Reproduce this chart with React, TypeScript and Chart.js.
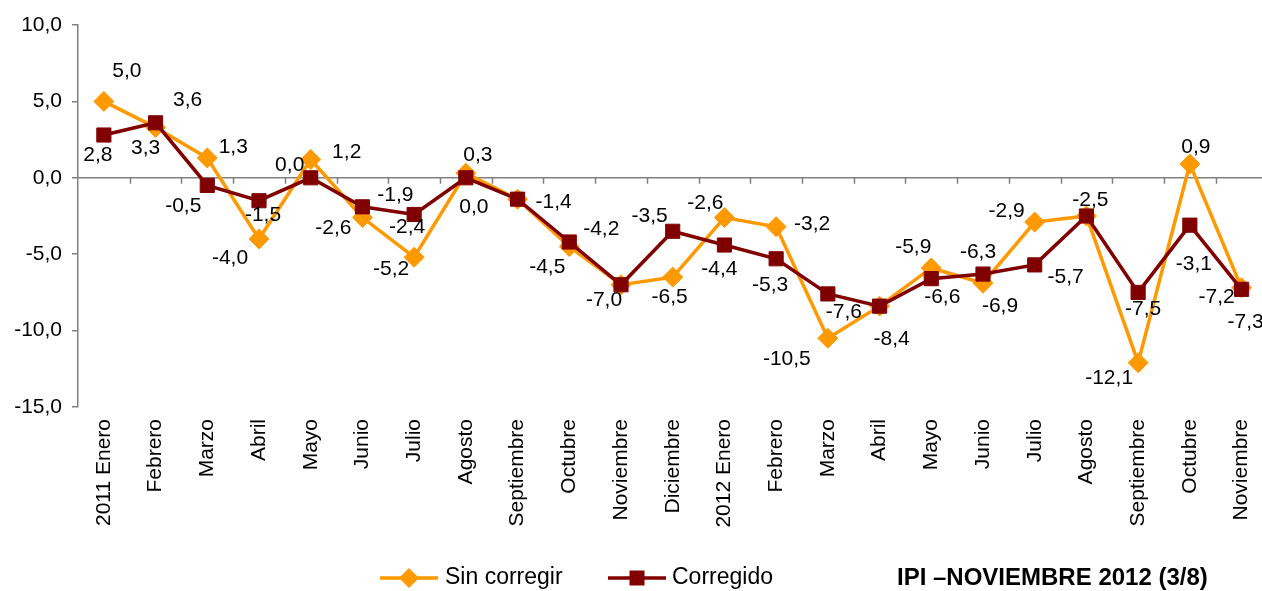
import React, { useEffect, useRef } from "react";
import { Chart, registerables } from "chart.js";

Chart.register(...registerables);

const categories: string[] = [
  "2011 Enero", "Febrero", "Marzo", "Abril", "Mayo", "Junio", "Julio", "Agosto",
  "Septiembre", "Octubre", "Noviembre", "Diciembre", "2012 Enero", "Febrero",
  "Marzo", "Abril", "Mayo", "Junio", "Julio", "Agosto", "Septiembre", "Octubre",
  "Noviembre",
];

const sinCorregir: number[] = [
  5.0, 3.3, 1.3, -4.0, 1.2, -2.6, -5.2, 0.3, -1.4, -4.5, -7.0, -6.5,
  -2.6, -3.2, -10.5, -8.4, -5.9, -6.9, -2.9, -2.5, -12.1, 0.9, -7.2,
];

const corregido: number[] = [
  2.8, 3.6, -0.5, -1.5, 0.0, -1.9, -2.4, 0.0, -1.4, -4.2, -7.0, -3.5,
  -4.4, -5.3, -7.6, -8.4, -6.6, -6.3, -5.7, -2.5, -7.5, -3.1, -7.3,
];

const yTicks: number[] = [10, 5, 0, -5, -10, -15];

const seriesNames = ["Sin corregir", "Corregido"];
const titleText = "IPI \u2013NOVIEMBRE 2012 (3/8)";

// label placement offsets (dx, dy) relative to the point; null = no label
type Off = [number, number] | null;
const sinOffsets: Off[] = [
  [23, -30], [-10, 21], [26, -11], [-29, 19], [36, -7], [-29, 11], [-23, 12],
  [12, -18], [36, 3], [-22, 21], [-17, 15], [-3, 20], [-19, -14], [36, -2],
  [-41, 21], [12, 33], [-18, -21], [17, 23], [-28, -11], null, [-29, 16],
  [6, -17], [-25, 9],
];
const corOffsets: Off[] = [
  [-6, 20], [32, -23], [-24, 21], [4, 14], [-21, -13], [33, -12], [-7, 13],
  [8, 29], null, [32, -13], null, [-23, -15], [-5, 24], [-6, 26], [16, 18],
  null, [11, 19], [-5, -22], [31, 12], [4, -16], [5, 17], [4, 39], [4, 33],
];

const ORANGE = "#FF9900";
const MAROON = "#800000";
const AXIS = "#808080";
const FONT = "'Liberation Sans', Arial, sans-serif";

const fmt = (v: number) => v.toFixed(1).replace(".", ",");

const zeroLinePlugin = {
  id: "zeroLine",
  beforeDatasetsDraw(chart: any) {
    const { ctx, chartArea } = chart;
    const y = chart.scales.y.getPixelForValue(0);
    const n = categories.length;
    const w = (chartArea.right - chartArea.left) / n;
    ctx.save();
    ctx.strokeStyle = AXIS;
    ctx.lineWidth = 1.5;
    ctx.beginPath();
    ctx.moveTo(chartArea.left, y);
    ctx.lineTo(chartArea.right, y);
    for (let k = 1; k <= n; k++) {
      const xx = Math.round(chartArea.left + k * w) + 0.5;
      ctx.moveTo(xx, y);
      ctx.lineTo(xx, y + 6);
    }
    ctx.stroke();
    ctx.restore();
  },
};

const labelPlugin = {
  id: "dataLabels",
  afterDatasetsDraw(chart: any) {
    const { ctx } = chart;
    const offs = [sinOffsets, corOffsets];
    ctx.save();
    ctx.font = `21px ${FONT}`;
    ctx.fillStyle = "#000";
    ctx.textAlign = "center";
    ctx.textBaseline = "middle";
    chart.data.datasets.forEach((ds: any, di: number) => {
      const meta = chart.getDatasetMeta(di);
      meta.data.forEach((pt: any, i: number) => {
        const o = offs[di][i];
        if (!o) return;
        ctx.fillText(fmt(ds.data[i]), pt.x + o[0], pt.y + o[1]);
      });
    });
    ctx.restore();
  },
};

const legendPlugin = {
  id: "customLegend",
  afterDraw(chart: any) {
    const { ctx } = chart;
    const y = 578;
    ctx.save();
    ctx.strokeStyle = ORANGE;
    ctx.lineWidth = 3.5;
    ctx.beginPath();
    ctx.moveTo(380, y);
    ctx.lineTo(438, y);
    ctx.stroke();
    ctx.fillStyle = ORANGE;
    ctx.beginPath();
    ctx.moveTo(409, y - 10);
    ctx.lineTo(419, y);
    ctx.lineTo(409, y + 10);
    ctx.lineTo(399, y);
    ctx.closePath();
    ctx.fill();
    ctx.strokeStyle = MAROON;
    ctx.beginPath();
    ctx.moveTo(608, y);
    ctx.lineTo(666, y);
    ctx.stroke();
    ctx.fillStyle = MAROON;
    ctx.fillRect(637 - 7.5, y - 7.5, 15, 15);
    ctx.fillStyle = "#000";
    ctx.textBaseline = "middle";
    ctx.textAlign = "left";
    ctx.font = `23px ${FONT}`;
    ctx.fillText(seriesNames[0], 445, y);
    ctx.fillText(seriesNames[1], 672, y);
    ctx.font = `bold 24px ${FONT}`;
    ctx.fillText(titleText, 897, y);
    ctx.restore();
  },
};

export default function App() {
  const ref = useRef<HTMLCanvasElement | null>(null);
  useEffect(() => {
    if (!ref.current) return;
    const chart = new Chart(ref.current, {
      type: "line",
      data: {
        labels: categories,
        datasets: [
          {
            label: seriesNames[0],
            data: sinCorregir,
            borderColor: ORANGE,
            backgroundColor: ORANGE,
            borderWidth: 3.5,
            pointStyle: "rectRot",
            pointRadius: 10,
            pointBorderWidth: 1,
            pointBackgroundColor: ORANGE,
            pointBorderColor: ORANGE,
            tension: 0,
            order: 1,
          },
          {
            label: seriesNames[1],
            data: corregido,
            borderColor: MAROON,
            backgroundColor: MAROON,
            borderWidth: 3.5,
            pointStyle: "rect",
            pointRadius: 10,
            pointBorderWidth: 1,
            pointBackgroundColor: MAROON,
            pointBorderColor: MAROON,
            tension: 0,
            order: 0,
          },
        ],
      },
      options: {
        animation: false,
        responsive: true,
        maintainAspectRatio: false,
        layout: { padding: { top: 25, right: 1, left: 0, bottom: 0 } },
        plugins: {
          legend: { display: false },
          tooltip: { enabled: false },
          title: { display: false },
        },
        scales: {
          x: {
            type: "category",
            offset: true,
            grid: { display: false, drawTicks: false, offset: true },
            border: { display: false },
            ticks: {
              autoSkip: false,
              maxRotation: 90,
              minRotation: 90,
              padding: 12,
              color: "#000",
              font: { family: FONT, size: 21 },
            },
            afterFit: (s: any) => {
              s.height = 184;
            },
          },
          y: {
            min: -15,
            max: 10,
            afterBuildTicks: (s: any) => {
              s.ticks = yTicks.map((v) => ({ value: v }));
            },
            ticks: {
              padding: 10,
              color: "#000",
              font: { family: FONT, size: 21 },
              callback: (v: any) => fmt(Number(v)),
            },
            grid: {
              drawOnChartArea: false,
              drawTicks: true,
              tickLength: 6,
              color: AXIS,
              lineWidth: 1.5,
            },
            border: { display: true, color: AXIS, width: 1.5 },
            afterFit: (s: any) => {
              s.width = 78;
            },
          },
        },
      },
      plugins: [zeroLinePlugin, labelPlugin, legendPlugin],
    });
    return () => chart.destroy();
  }, []);

  return (
    <div
      style={{
        position: "fixed",
        left: 0,
        top: 0,
        width: 1262,
        height: 591,
        overflow: "hidden",
        background: "#fff",
      }}
    >
      <div style={{ position: "relative", width: 1279, height: 591 }}>
        <canvas ref={ref} />
      </div>
    </div>
  );
}
